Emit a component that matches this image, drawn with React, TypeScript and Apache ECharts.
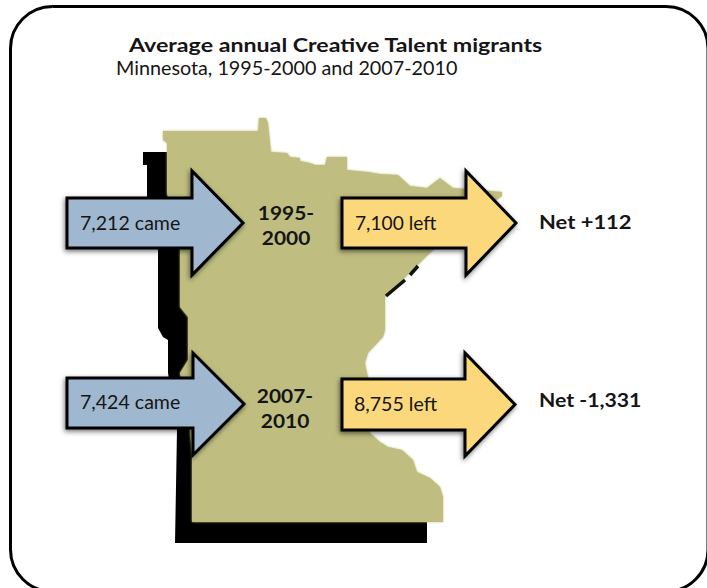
import React, { useEffect, useRef } from "react";
import * as echarts from "echarts";

const titleText = "Average annual Creative Talent migrants";
const subtitleText = "Minnesota, 1995-2000 and 2007-2010";
const periodLines = [["1995-", "2000"], ["2007-", "2010"]];
const came = ["7,212", "7,424"];
const left = ["7,100", "8,755"];
const net = ["+112", "-1,331"];

const mapOutline = [
  [163,131],[258,131],[259,118],[266,118],[268,123],[271,152],[287,153],[290,157],[300,158],[300,161],[310,163],[315,165],[325,165],[327,157],[347,157],[347,170],[368,172],[380,174],[398,175],[410,186],[427,188],[440,178],[453,188],[502,192],[502,196],[445,238],[430,253],[385,297],[385,330],[383,337],[368,353],[365,363],[367,373],[372,395],[370,433],[380,442],[388,447],[402,450],[413,460],[417,472],[430,478],[440,487],[443,497],[443,522],[192,522],[192,455],[189,420],[180,373],[188,360],[188,317],[180,307],[180,250],[167,193],[167,143],[163,140],
];
const shadowFull = [
  [143,152],[175,152],[200,300],[210,522],[427,522],[427,543],[175,543],[177,430],[168,373],[168,340],[163,337],[158,328],[158,247],[147,197],[147,165],[143,165],
];
const shoreDashes = [
  [[386,296],[405,280]],
  [[410,275],[418,266]],
];

const arrow = (x0: number, xh: number, xt: number, ht: number, bt: number, bb: number, hb: number) => [
  [x0,bt],[xh,bt],[xh,ht],[xt,(ht+hb)/2],[xh,hb],[xh,bb],[x0,bb],
];
const BLUE = "#a0b8cf";
const YELLOW = "#fbd87c";
const OLIVE = "#bfbe80";
const INK = "#151515";
const FONT = "Lato";

const arrows = [
  { pts: arrow(67,192,243,171,198,248,275), fill: BLUE },
  { pts: arrow(342,466,516,171,198,248,275), fill: YELLOW },
  { pts: arrow(67,193,244,353,378,428,455), fill: BLUE },
  { pts: arrow(342,465,515,353,379,430,456), fill: YELLOW },
];

const txt = (text: string, x: number, y: number, size: number, bold: boolean, align: string = "left", sx = 1) => ({
  type: "text", x, y, scaleX: sx, z: 20,
  style: { text, fontFamily: FONT, fontSize: size, fontWeight: bold ? 700 : 400, fill: INK, align, verticalAlign: "middle" },
});

export default function App() {
  const ref = useRef<HTMLDivElement>(null);
  useEffect(() => {
    document.body.style.margin = "0";
    const chart = echarts.init(ref.current!, null, { renderer: "svg" });
    const elements: any[] = [
      { type: "rect", z: 1, shape: { x: 10.5, y: 6.5, width: 697.5, height: 585, r: 42 }, style: { fill: "#fff", stroke: "#000", lineWidth: 3 } },
      { type: "polygon", z: 2, shape: { points: shadowFull }, style: { fill: "#000" } },
      { type: "polygon", z: 4, shape: { points: mapOutline }, style: { fill: OLIVE, shadowColor: OLIVE, shadowBlur: 2 } },
      ...shoreDashes.map((p) => ({ type: "polyline", z: 5, shape: { points: p }, style: { stroke: "#111", lineWidth: 3.5, fill: "none" } })),
      ...arrows.map((a) => ({
        type: "polygon", z: 10, shape: { points: a.pts },
        style: { fill: a.fill, stroke: "#000", lineWidth: 3, lineJoin: "miter", shadowColor: "rgba(0,0,0,0.55)", shadowBlur: 5, shadowOffsetX: -1, shadowOffsetY: 2 },
      })),
      txt(titleText, 129, 45, 19, true, "left", 1.22),
      txt(subtitleText, 116, 68, 19, false, "left", 1.04),
      txt(`${came[0]} came`, 80, 223, 19, false, "left", 1.03),
      txt(`${left[0]} left`, 355, 223, 19, false, "left", 1.01),
      txt(`${came[1]} came`, 80, 402, 19, false, "left", 1.03),
      txt(`${left[1]} left`, 354, 404, 19, false, "left", 1.03),
      txt(periodLines[0][0], 286, 212, 19, true, "center", 1.1),
      txt(periodLines[0][1], 286, 237, 19, true, "center", 1.1),
      txt(periodLines[1][0], 285, 395, 19, true, "center", 1.1),
      txt(periodLines[1][1], 285, 420, 19, true, "center", 1.1),
      txt(`Net ${net[0]}`, 539, 222, 18, true, "left", 1.22),
      txt(`Net ${net[1]}`, 539, 400, 18, true, "left", 1.18),
    ];
    chart.setOption({ animation: false, backgroundColor: "#fff", graphic: { elements } });
    return () => chart.dispose();
  }, []);
  return <div ref={ref} style={{ position: "absolute", left: 0, top: 0, width: 707, height: 588 }} />;
}
